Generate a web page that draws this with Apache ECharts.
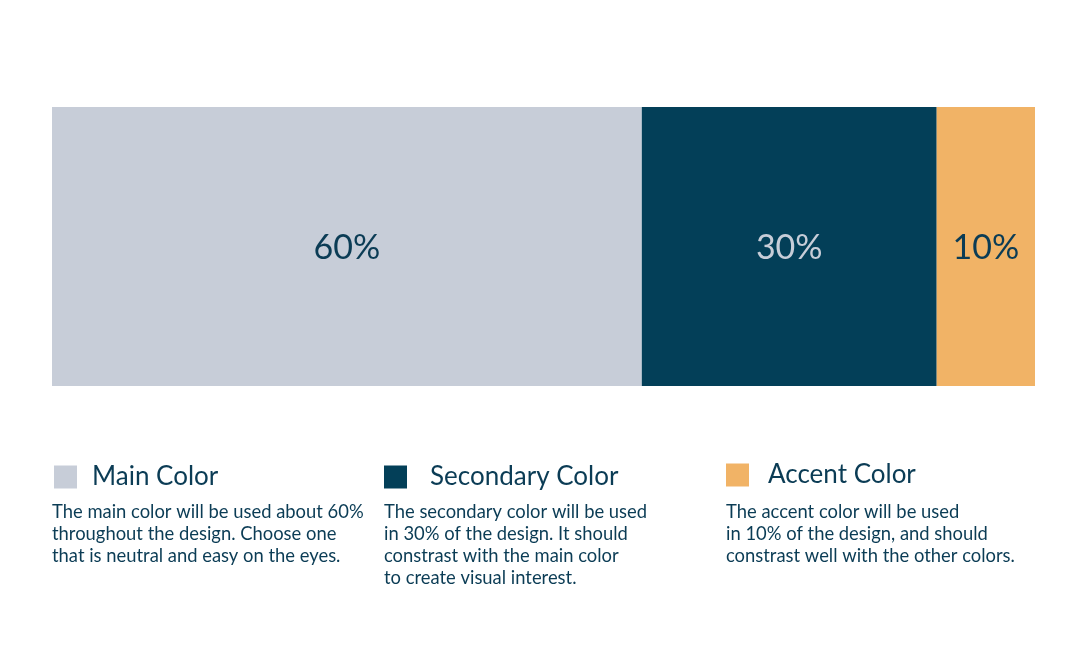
<!DOCTYPE html>
<html>
<head>
<meta charset="utf-8">
<script src="https://cdn.jsdelivr.net/npm/echarts@6/dist/echarts.min.js"></script>
<style>html,body{margin:0;padding:0;background:#fff}#c{width:1080px;height:650px}</style>
</head>
<body>
<div id="c"></div>
<script>
var names = ['Main Color', 'Secondary Color', 'Accent Color'];
var shares = [60, 30, 10];
var colors = ['#c7cdd8', '#033f58', '#f1b366'];
var labelColors = ['#0b3c55', '#c7cdd8', '#0b3c55'];
var descriptions = [
  'The main color will be used about 60%\nthroughout the design. Choose one\nthat is neutral and easy on the eyes.',
  'The secondary color will be used\nin 30% of the design. It should\nconstrast with the main color\nto create visual interest.',
  'The accent color will be used\nin 10% of the design, and should\nconstrast well with the other colors.'
];
var textColor = '#0b3c55';
var font = 'Lato';

var legendLeft = [54, 384, 726];
var legendTop = [464, 464, 462];
var legendPad = [10, 18, 14];
var descLeft = [52, 384, 726];

var chart = echarts.init(document.getElementById('c'));
var series = names.map(function (n, i) {
  return {
    name: n,
    type: 'bar',
    stack: 'total',
    barWidth: '100%',
    data: [shares[i]],
    itemStyle: { color: colors[i] },
    label: {
      show: true,
      position: 'inside',
      formatter: '{c}%',
      color: labelColors[i],
      fontFamily: font,
      fontSize: 34,
      offset: [0, 2]
    },
    emphasis: { disabled: true },
    silent: true
  };
});
var legends = names.map(function (n, i) {
  return {
    data: [n],
    left: legendLeft[i],
    top: legendTop[i],
    padding: 0,
    icon: 'rect',
    itemWidth: 23,
    itemHeight: 23,
    selectedMode: false,
    textStyle: { color: textColor, fontFamily: font, fontSize: 26, padding: [0, 0, 0, legendPad[i]] }
  };
});
var graphics = descriptions.map(function (d, i) {
  return {
    type: 'text',
    left: descLeft[i],
    top: 501,
    style: { text: d, fill: textColor, font: '18.4px Lato', lineHeight: 22 }
  };
});
chart.setOption({
  animation: false,
  grid: { left: 52, right: 45, top: 107, height: 279 },
  xAxis: { type: 'value', min: 0, max: 100, show: false },
  yAxis: { type: 'category', data: ['share'], show: false },
  legend: legends,
  series: series,
  graphic: graphics
});
</script>
</body>
</html>
